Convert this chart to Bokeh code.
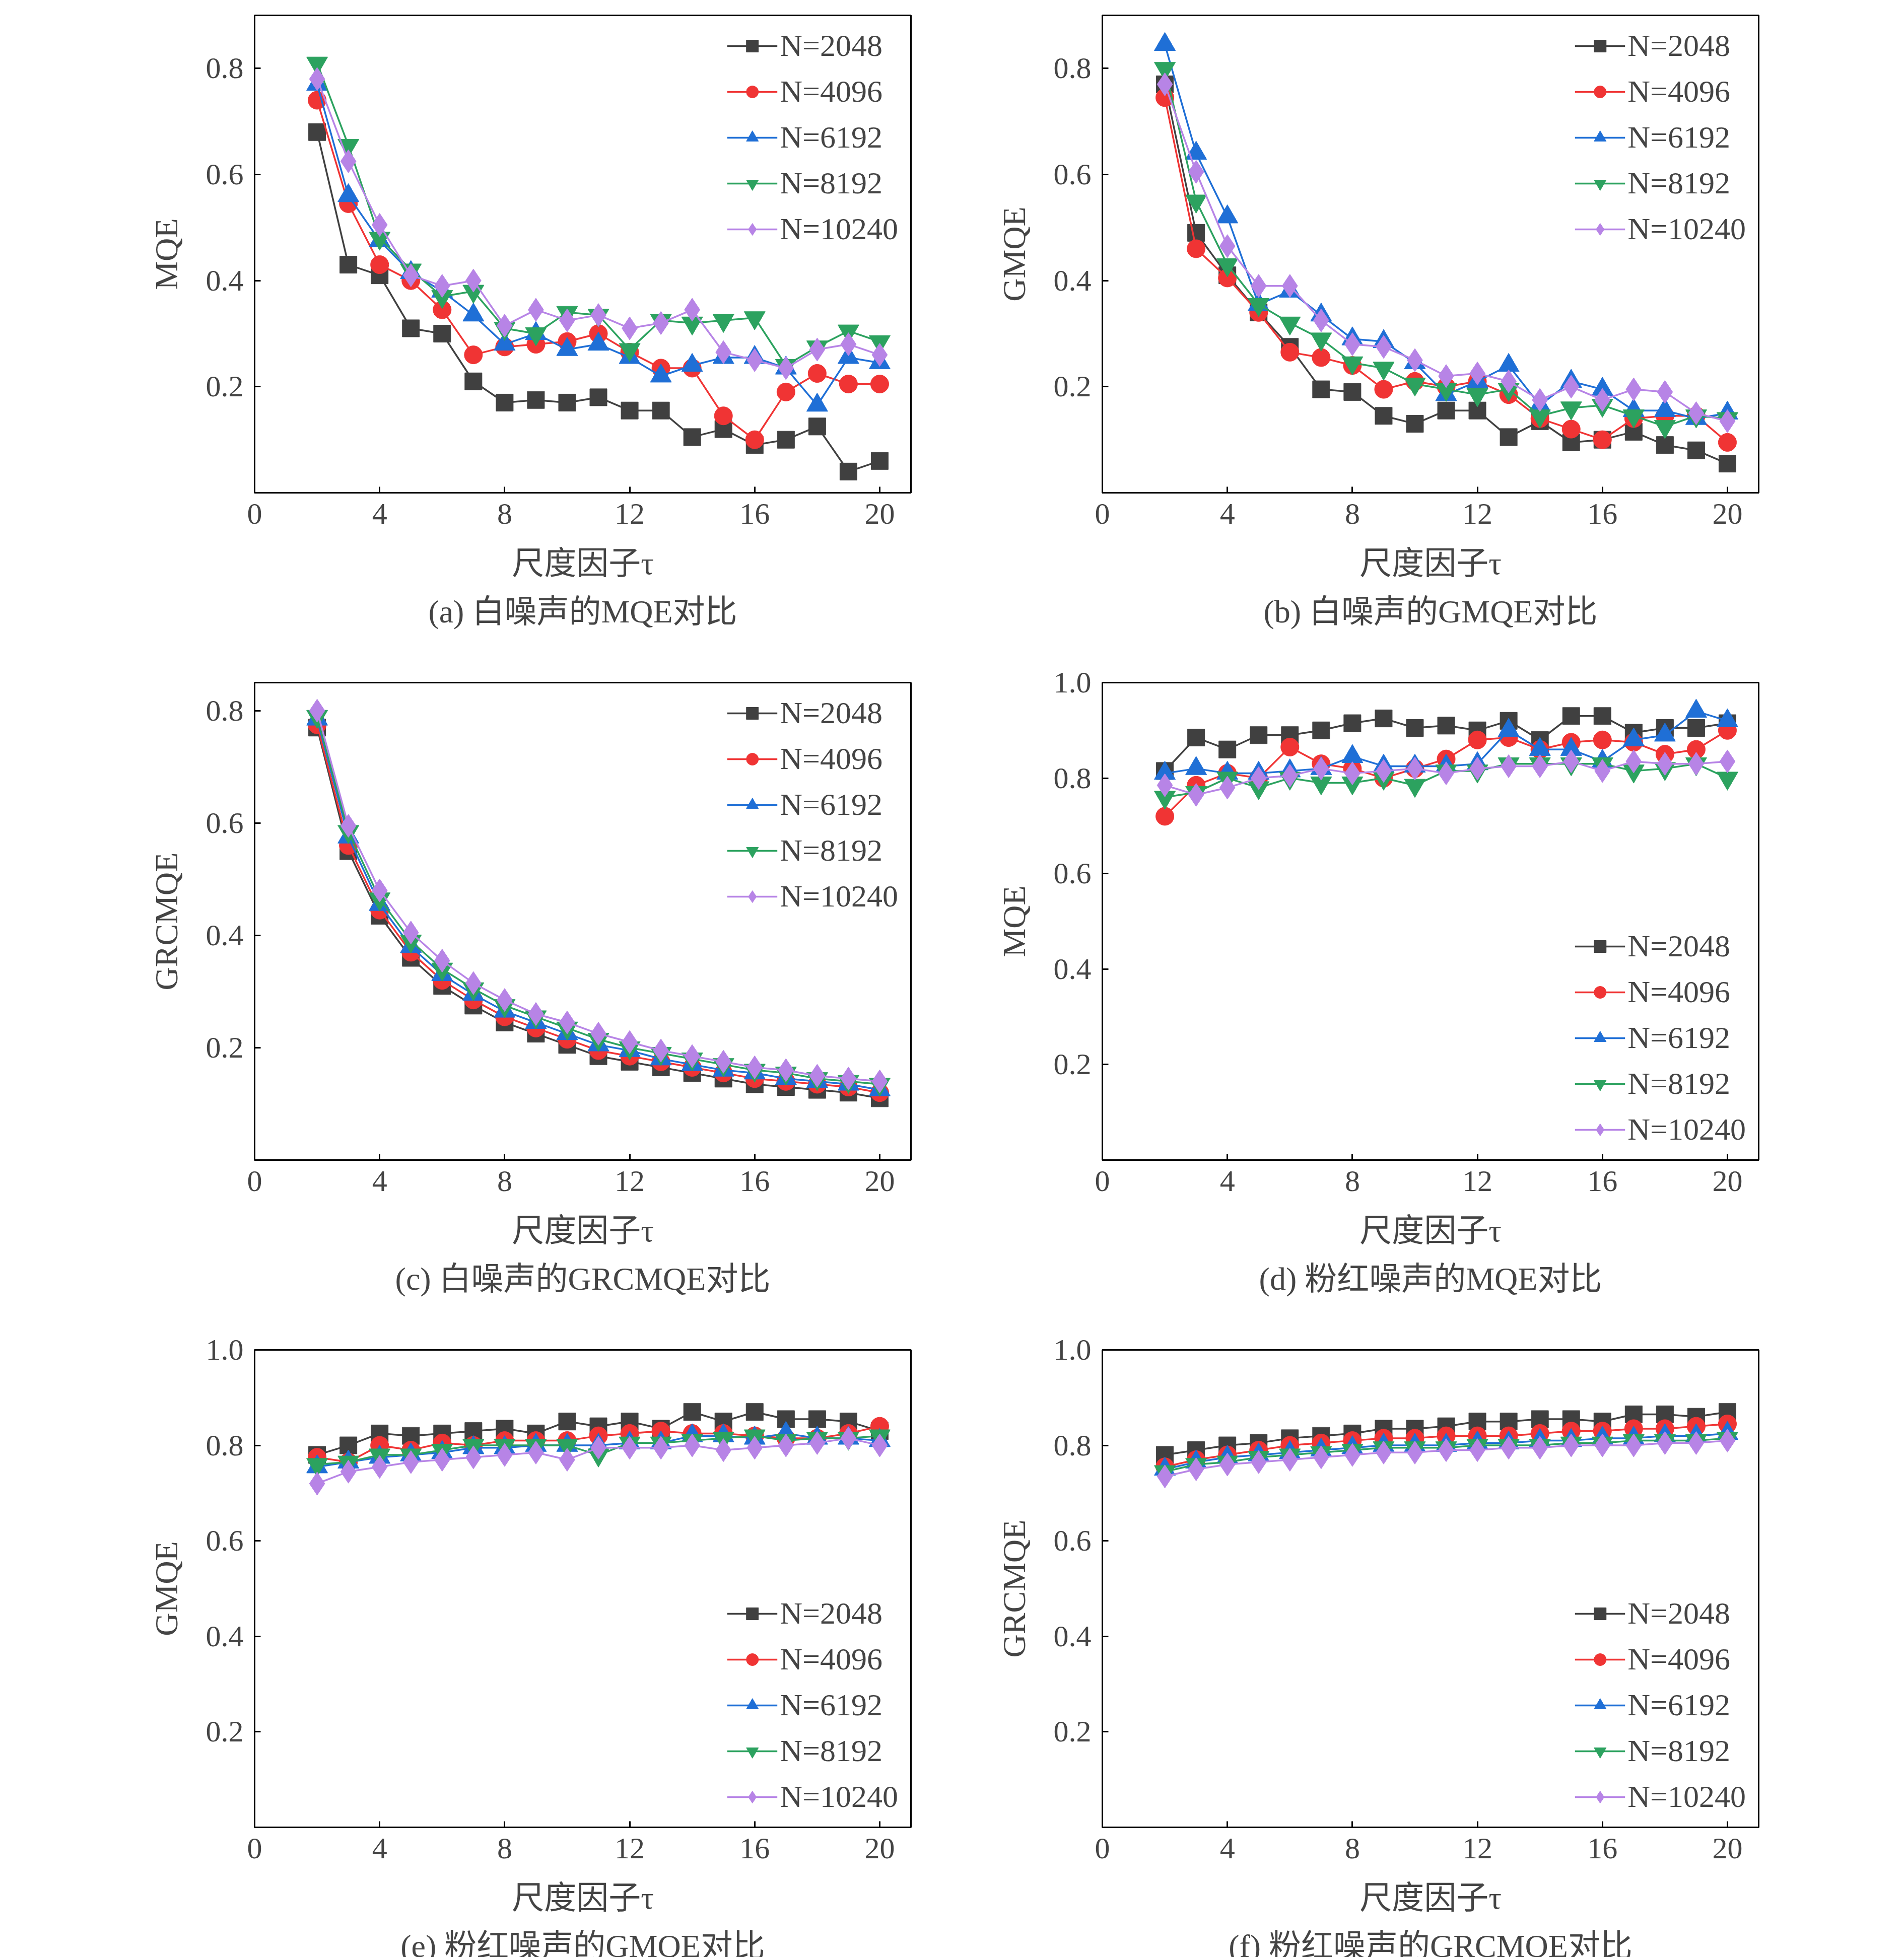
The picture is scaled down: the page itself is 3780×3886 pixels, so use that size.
from bokeh.plotting import figure
from bokeh.layouts import gridplot
from bokeh.models import Range1d, FixedTicker, Legend, LegendItem, Title, NumeralTickFormatter
from bokeh.embed import file_html
from bokeh.resources import INLINE

tau = list(range(2, 21))
labels = ["N=2048", "N=4096", "N=6192", "N=8192", "N=10240"]
colors = ["#404040", "#f03434", "#1f6fd6", "#2ca25f", "#b784e6"]
markers = ["square", "circle", "triangle", "inverted_triangle", "diamond"]
msizes = [34, 36, 42, 42, 46]

a_vals = [
 [0.68,0.43,0.41,0.31,0.30,0.21,0.17,0.175,0.17,0.18,0.155,0.155,0.105,0.12,0.09,0.10,0.125,0.04,0.06],
 [0.74,0.545,0.43,0.40,0.345,0.26,0.275,0.28,0.285,0.30,0.265,0.235,0.235,0.145,0.10,0.19,0.225,0.205,0.205],
 [0.77,0.56,0.475,0.415,0.38,0.335,0.28,0.30,0.27,0.28,0.255,0.22,0.24,0.255,0.255,0.235,0.165,0.255,0.245],
 [0.81,0.655,0.48,0.42,0.37,0.38,0.31,0.30,0.34,0.335,0.27,0.325,0.32,0.325,0.33,0.24,0.275,0.305,0.285],
 [0.78,0.625,0.505,0.41,0.39,0.40,0.315,0.345,0.325,0.335,0.31,0.32,0.345,0.265,0.25,0.235,0.27,0.28,0.26]]
b_vals = [
 [0.77,0.49,0.41,0.34,0.275,0.195,0.19,0.145,0.13,0.155,0.155,0.105,0.135,0.095,0.10,0.115,0.09,0.08,0.055],
 [0.745,0.46,0.405,0.34,0.265,0.255,0.24,0.195,0.21,0.20,0.21,0.185,0.14,0.12,0.10,0.14,0.145,0.145,0.095],
 [0.845,0.64,0.52,0.355,0.38,0.335,0.29,0.285,0.245,0.185,0.21,0.24,0.165,0.21,0.195,0.155,0.155,0.14,0.15],
 [0.80,0.55,0.43,0.355,0.32,0.29,0.245,0.235,0.205,0.195,0.185,0.195,0.145,0.16,0.165,0.145,0.125,0.145,0.14],
 [0.77,0.605,0.465,0.39,0.39,0.325,0.28,0.275,0.25,0.22,0.225,0.21,0.175,0.20,0.175,0.195,0.19,0.15,0.135]]
c_vals = [
 [0.77,0.55,0.435,0.36,0.31,0.275,0.245,0.225,0.205,0.185,0.175,0.165,0.155,0.145,0.135,0.13,0.125,0.12,0.11],
 [0.775,0.56,0.445,0.37,0.32,0.285,0.255,0.235,0.215,0.195,0.185,0.175,0.165,0.155,0.145,0.14,0.135,0.13,0.12],
 [0.785,0.575,0.455,0.38,0.33,0.295,0.265,0.245,0.225,0.205,0.195,0.18,0.17,0.16,0.155,0.145,0.14,0.135,0.125],
 [0.79,0.585,0.465,0.39,0.34,0.305,0.275,0.255,0.235,0.215,0.2,0.19,0.18,0.17,0.16,0.155,0.145,0.14,0.135],
 [0.80,0.595,0.48,0.405,0.355,0.315,0.285,0.26,0.245,0.225,0.21,0.195,0.185,0.175,0.165,0.16,0.15,0.145,0.14]]
d_vals = [
 [0.815,0.885,0.86,0.89,0.89,0.90,0.915,0.925,0.905,0.91,0.90,0.92,0.88,0.93,0.93,0.895,0.905,0.905,0.915],
 [0.72,0.785,0.81,0.80,0.865,0.83,0.82,0.80,0.82,0.84,0.88,0.885,0.86,0.875,0.88,0.875,0.85,0.86,0.90],
 [0.81,0.82,0.81,0.81,0.815,0.82,0.845,0.825,0.825,0.825,0.83,0.90,0.86,0.86,0.835,0.88,0.89,0.94,0.92],
 [0.76,0.77,0.80,0.78,0.80,0.79,0.79,0.80,0.785,0.815,0.815,0.83,0.83,0.83,0.83,0.815,0.82,0.83,0.80],
 [0.785,0.765,0.78,0.80,0.805,0.82,0.81,0.815,0.82,0.81,0.82,0.825,0.825,0.835,0.815,0.835,0.83,0.83,0.835]]
e_vals = [
 [0.78,0.80,0.825,0.82,0.825,0.83,0.835,0.825,0.85,0.84,0.85,0.835,0.87,0.85,0.87,0.855,0.855,0.85,0.83],
 [0.775,0.765,0.80,0.79,0.805,0.80,0.81,0.81,0.81,0.82,0.825,0.83,0.825,0.825,0.82,0.815,0.815,0.825,0.84],
 [0.755,0.765,0.775,0.78,0.785,0.795,0.795,0.80,0.80,0.80,0.805,0.805,0.82,0.82,0.815,0.825,0.815,0.815,0.81],
 [0.76,0.765,0.78,0.78,0.79,0.80,0.80,0.80,0.80,0.78,0.805,0.805,0.81,0.815,0.82,0.81,0.815,0.815,0.82],
 [0.72,0.745,0.755,0.765,0.77,0.775,0.78,0.785,0.77,0.795,0.795,0.795,0.80,0.79,0.795,0.80,0.805,0.815,0.80]]
f_vals = [
 [0.78,0.79,0.80,0.805,0.815,0.82,0.825,0.835,0.835,0.84,0.85,0.85,0.855,0.855,0.85,0.865,0.865,0.86,0.87],
 [0.755,0.77,0.78,0.79,0.80,0.805,0.81,0.815,0.815,0.82,0.82,0.82,0.825,0.83,0.83,0.835,0.835,0.84,0.845],
 [0.75,0.765,0.775,0.78,0.785,0.79,0.795,0.80,0.80,0.80,0.805,0.805,0.81,0.81,0.815,0.815,0.82,0.82,0.825],
 [0.745,0.76,0.765,0.775,0.78,0.785,0.79,0.795,0.795,0.795,0.80,0.80,0.80,0.805,0.805,0.81,0.81,0.81,0.815],
 [0.735,0.75,0.76,0.765,0.77,0.775,0.78,0.785,0.785,0.79,0.79,0.795,0.795,0.80,0.80,0.80,0.805,0.805,0.81]]

panels = [
 (a_vals, "MQE", "(a) 白噪声的MQE对比", 0.9, [0.2,0.4,0.6,0.8], "top_right"),
 (b_vals, "GMQE", "(b) 白噪声的GMQE对比", 0.9, [0.2,0.4,0.6,0.8], "top_right"),
 (c_vals, "GRCMQE", "(c) 白噪声的GRCMQE对比", 0.85, [0.2,0.4,0.6,0.8], "top_right"),
 (d_vals, "MQE", "(d) 粉红噪声的MQE对比", 1.0, [0.2,0.4,0.6,0.8,1.0], "bottom_right"),
 (e_vals, "GMQE", "(e) 粉红噪声的GMQE对比", 1.0, [0.2,0.4,0.6,0.8,1.0], "bottom_right"),
 (f_vals, "GRCMQE", "(f) 粉红噪声的GRCMQE对比", 1.0, [0.2,0.4,0.6,0.8,1.0], "bottom_right"),
]

FONT = "Liberation Serif, Noto Sans CJK SC"
figs = []
for i, (vals, ylab, cap, ymax, yt, loc) in enumerate(panels):
    left = (i % 2 == 0)
    p = figure(output_backend="svg", toolbar_location=None,
               frame_width=1303, frame_height=948,
               x_range=Range1d(0, 21), y_range=Range1d(0, ymax),
               min_border_left=505 if left else 300, min_border_right=80 if left else 280,
               min_border_top=30, min_border_bottom=347)
    p.outline_line_color = "black"; p.outline_line_width = 3
    p.grid.visible = False
    p.xaxis.ticker = FixedTicker(ticks=[0,4,8,12,16,20])
    p.yaxis.ticker = FixedTicker(ticks=yt)
    p.yaxis.formatter = NumeralTickFormatter(format="0.0")
    for ax in (p.xaxis[0], p.yaxis[0]):
        ax.major_label_text_font = FONT
        ax.major_label_text_font_size = "60px"
        ax.major_label_standoff = 22
        ax.axis_label_text_font = FONT
        ax.axis_label_text_font_size = "64px"
        ax.axis_label_text_font_style = "normal"
        ax.axis_label_standoff = 40
        ax.axis_line_width = 3
        ax.major_tick_line_width = 3
        ax.major_tick_in = 12; ax.major_tick_out = 0
        ax.minor_tick_line_color = None
    p.xaxis.axis_label = "尺度因子τ"
    p.yaxis.axis_label = ylab
    items = []
    for k in range(5):
        r1 = p.line(tau, vals[k], line_color=colors[k], line_width=3.5)
        r2 = p.scatter(tau, vals[k], marker=markers[k], size=msizes[k], fill_color=colors[k], line_color=colors[k])
        items.append(LegendItem(label=labels[k], renderers=[r1, r2]))
    lg = Legend(items=items, location=loc, border_line_color=None, background_fill_alpha=0,
                label_text_font=FONT, label_text_font_size="62px", glyph_width=100, glyph_height=60,
                label_height=64, spacing=20, margin=25, padding=10)
    p.add_layout(lg)
    t = Title(text=cap, align="center", text_font=FONT, text_font_size="64px", text_font_style="normal",
              standoff=40)
    p.add_layout(t, "below")
    figs.append(p)

grid = gridplot([[figs[0], figs[1]], [figs[2], figs[3]], [figs[4], figs[5]]], toolbar_location=None)
open("out.html", "w").write(file_html(grid, INLINE))
